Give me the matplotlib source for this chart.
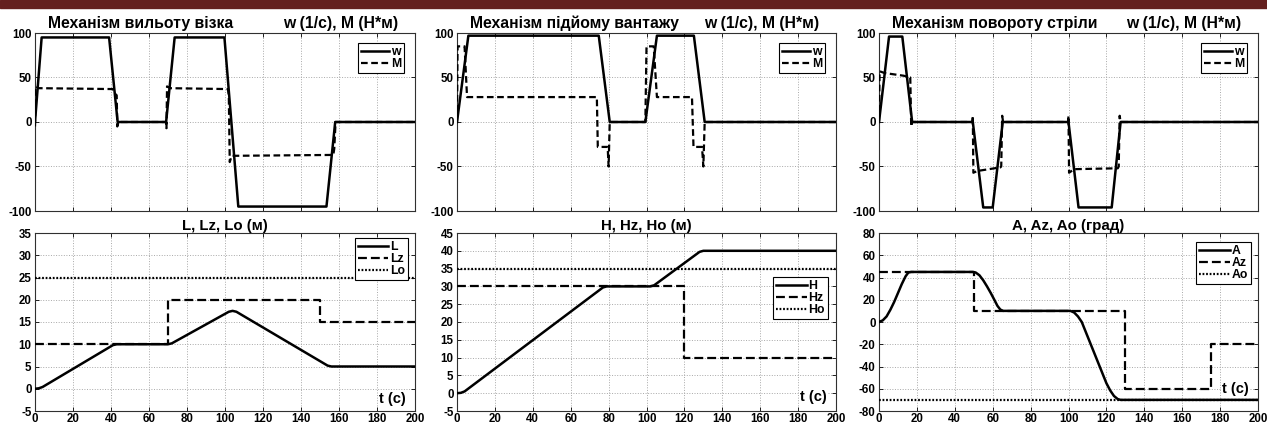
import numpy as np
import matplotlib
matplotlib.use("Agg")
import matplotlib.pyplot as plt
from matplotlib.patches import Rectangle

plt.rcParams['font.family'] = ['Liberation Sans', 'DejaVu Sans']
plt.rcParams['font.weight'] = 'bold'
plt.rcParams['axes.unicode_minus'] = False

# ------------------------------------------------------------
# Дані
# ------------------------------------------------------------

# Механізм вильоту візка
w1_t = [0, 3.5, 39, 43.5, 69, 73.5, 99.7, 107, 153.4, 158, 200]
w1 = [0, 95, 95, 0, 0, 95, 95, -95, -95, 0, 0]
M1_t = [0, 0.3, 2, 41, 41.5, 43, 43.3, 44, 69, 69.2, 69.5, 71, 101.5, 102,
        102.5, 103.5, 157, 157.5, 158.2, 200]
M1 = [-5, 40, 38, 37, 33, 30, -5, 0, 0, -7, 40, 38, 37, 30,
      -45, -38, -37, -30, 0, 0]
L_t = [0, 2, 4, 41, 43, 70, 72, 102, 104, 106, 154, 156, 200]
L = [0, 0.1, 0.4, 9.8, 10, 10, 10.2, 17.3, 17.5, 17.3, 5.2, 5, 5]
Lz_t = [0, 70, 70, 150, 150, 200]
Lz = [10, 10, 20, 20, 15, 15]
Lo = 25

# Механізм підйому вантажу
w2_t = [0, 6, 74.8, 80.6, 99.4, 105.5, 125, 130.7, 200]
w2 = [0, 97, 97, 0, 0, 97, 97, 0, 0]
M2_t = [0, 0.3, 4, 5.3, 73.8, 74.3, 79.5, 80, 80.6, 99.4, 100, 103.8, 105.5,
        124, 124.8, 129.3, 130, 130.7, 200]
M2 = [0, 85, 85, 28, 28, -28, -28, -50, 0, 0, 85, 85, 28,
      28, -28, -28, -50, 0, 0]
H_t = [0, 2, 4, 77, 79, 102, 104, 128, 130, 200]
H = [0, 0.1, 0.5, 29.7, 30, 30, 30.3, 39.7, 40, 40]
Hz_t = [0, 120, 120, 200]
Hz = [30, 30, 10, 10]
Ho = 35

# Механізм повороту стріли
w3_t = [0, 5.3, 12.3, 17.5, 49.5, 55, 60, 65.3, 100, 105.3, 122.8, 127.5, 200]
w3 = [0, 96, 96, 0, 0, -96, -96, 0, 0, -96, -96, 0, 0]
M3_t = [0, 0.3, 3, 13, 16.5, 17, 17.5, 49.3, 49.5, 49.8, 52, 64, 64.5, 65, 65.5,
        99.8, 100, 100.3, 103, 126, 126.5, 127, 127.5, 200]
M3 = [0, 57, 55, 52, 50, -5, 0, 0, 7, -57, -55, -51, -50, 7, 0,
      0, 7, -57, -53, -52, -50, 7, 0, 0]
A_t = [0, 2, 4, 6, 8, 10, 12, 14, 15.5, 17, 49.5, 51, 53, 55, 57, 59, 61, 62.5,
       64, 65.5, 101, 103, 105, 107, 120, 122, 124, 126, 127.5, 200]
A = [0, 1.5, 5, 11, 18, 26, 34, 41, 44.5, 45, 45, 44.5, 42, 37.5, 32, 26, 19.5,
     14.5, 11.2, 10, 10, 8.5, 5, 0, -55, -61.5, -66.5, -69.3, -70, -70]
Az_t = [0, 50, 50, 130, 130, 175, 175, 200]
Az = [45, 45, 10, 10, -60, -60, -20, -20]
Ao = -70

# ------------------------------------------------------------
# Побудова
# ------------------------------------------------------------

W, Hpx = 1267, 423
fig = plt.figure(figsize=(W / 100, Hpx / 100), dpi=100)

# темна смуга вгорі
fig.patches.append(Rectangle((0, 1 - 8 / Hpx), 1, 8 / Hpx, transform=fig.transFigure,
                             color='#64201f', zorder=0))

cols = [(35, 415), (457, 836), (879, 1258)]
top_y = (33, 211)
bot_y = (233, 411)


def make_ax(x0, x1, y0, y1):
    return fig.add_axes([x0 / W, 1 - y1 / Hpx, (x1 - x0) / W, (y1 - y0) / Hpx])


def style(ax, ylim, yticks, xlabels=True):
    ax.set_xlim(0, 200)
    ax.set_ylim(*ylim)
    ax.set_xticks(np.arange(0, 201, 20))
    ax.set_yticks(yticks)
    if not xlabels:
        ax.set_xticklabels([])
    ax.grid(True, linestyle=':', color='#a8a8a8', linewidth=0.7)
    ax.tick_params(direction='in', top=True, right=True, length=3, width=0.6,
                   labelsize=8.3, pad=2.5)
    ax.tick_params(axis='x', pad=1.2)
    for s in ax.spines.values():
        s.set_linewidth(0.8)
        s.set_color('#303030')
    for lb in ax.get_xticklabels() + ax.get_yticklabels():
        lb.set_fontweight('bold')


def legend(ax, anchor, size=8.8, hlen=2.5):
    leg = ax.legend(fontsize=size, handlelength=hlen, handletextpad=0.15,
                    borderpad=0.25, labelspacing=0.0, fancybox=False,
                    framealpha=1, edgecolor='black', borderaxespad=0,
                    loc='upper right', bbox_to_anchor=anchor)
    leg.get_frame().set_linewidth(0.8)
    for t in leg.get_texts():
        t.set_fontweight('bold')
    return leg


top_titles = ["Механізм вильоту візка", "Механізм підйому вантажу",
              "Механізм повороту стріли"]
bot_titles = ["L, Lz, Lo (м)", "H, Hz, Ho (м)", "A, Az, Ao (град)"]
wdata = [(w1_t, w1, M1_t, M1), (w2_t, w2, M2_t, M2), (w3_t, w3, M3_t, M3)]

for i, (x0, x1) in enumerate(cols):
    ax = make_ax(x0, x1, *top_y)
    wt, wv, mt, mv = wdata[i]
    ax.plot(wt, wv, color='black', lw=1.8, label='w', zorder=3)
    ax.plot(mt, mv, color='black', lw=1.6, ls=(0, (3, 1.6)), label='M', zorder=3)
    style(ax, (-100, 100), [-100, -50, 0, 50, 100], xlabels=False)
    legend(ax, (0.971, 0.944), hlen=2.3)
    ax.text(0.035, 1.012, top_titles[i], transform=ax.transAxes, fontsize=11.3,
            fontweight='bold', ha='left', va='bottom')
    ax.text(0.955, 1.012, "w (1/с), M (Н*м)", transform=ax.transAxes,
            fontsize=11.3, fontweight='bold', ha='right', va='bottom')

# нижні графіки
ax1 = make_ax(cols[0][0], cols[0][1], *bot_y)
ax1.plot(L_t, L, color='black', lw=1.8, label='L', zorder=3)
ax1.plot(Lz_t, Lz, color='black', lw=1.6, ls=(0, (4, 1.8)), label='Lz', zorder=3)
ax1.plot([0, 200], [Lo, Lo], color='black', lw=1.6, ls=(0, (0.8, 0.8)), label='Lo', zorder=3)
style(ax1, (-5, 35), np.arange(-5, 36, 5))
legend(ax1, (0.982, 0.972))

ax2 = make_ax(cols[1][0], cols[1][1], *bot_y)
ax2.plot(H_t, H, color='black', lw=1.8, label='H', zorder=3)
ax2.plot(Hz_t, Hz, color='black', lw=1.6, ls=(0, (4, 1.8)), label='Hz', zorder=3)
ax2.plot([0, 200], [Ho, Ho], color='black', lw=1.6, ls=(0, (0.8, 0.8)), label='Ho', zorder=3)
style(ax2, (-5, 45), np.arange(-5, 46, 5))
legend(ax2, (0.979, 0.753))

ax3 = make_ax(cols[2][0], cols[2][1], *bot_y)
ax3.plot(A_t, A, color='black', lw=1.8, label='A', zorder=3)
ax3.plot(Az_t, Az, color='black', lw=1.6, ls=(0, (4, 1.8)), label='Az', zorder=3)
ax3.plot([0, 200], [Ao, Ao], color='black', lw=1.6, ls=(0, (0.8, 0.8)), label='Ao', zorder=3)
style(ax3, (-80, 80), np.arange(-80, 81, 20))
legend(ax3, (0.982, 0.949))

for ax, ty, title in zip([ax1, ax2, ax3], [0.07, 0.08, 0.125], bot_titles):
    ax.set_title(title, fontsize=10.8, fontweight='bold', pad=2)
    ax.text(0.975, ty, "t (c)", transform=ax.transAxes, fontsize=10.5,
            fontweight='bold', ha='right', va='center',
            bbox=dict(facecolor='white', edgecolor='none', pad=0.5))

fig.savefig("out.png", dpi=100)
